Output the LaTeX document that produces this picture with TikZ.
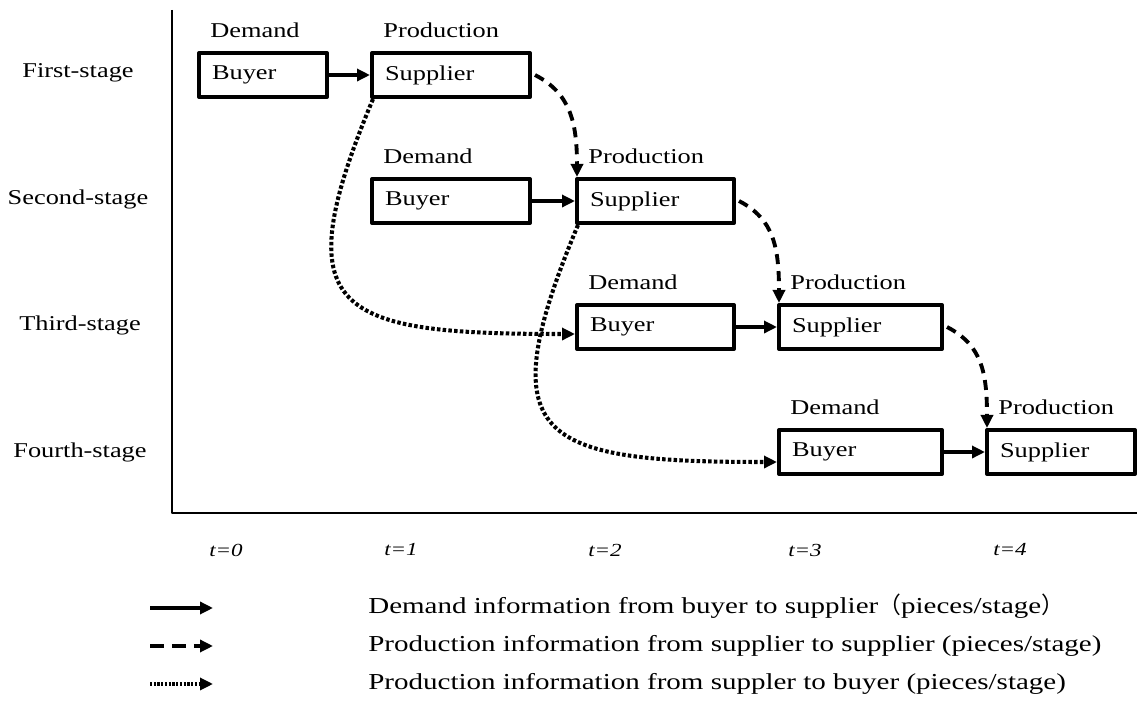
\documentclass[tikz,border=0pt]{standalone}
\usepackage{fontspec}
\setmainfont[FakeStretch=1.25]{Liberation Serif}
\newfontfamily\legfont[FakeStretch=1.27]{Liberation Serif}
\newfontfamily\cjk{Noto Sans CJK JP}
\usetikzlibrary{arrows.meta,calc}
\begin{document}
\begin{tikzpicture}[x=0.02cm, y=-0.02cm, line join=round,
	box/.style={draw, line width=2.3pt, anchor=north west, minimum height=0.88cm, inner xsep=0.26cm, text width=#1, align=left, font=\fontsize{12}{14}\selectfont},
	tag/.style={anchor=base west, inner sep=0pt, font=\fontsize{12}{14}\selectfont},
	stage/.style={font=\fontsize{12}{14}\selectfont},
	tlabel/.style={font=\fontsize{10.5}{12}\selectfont\itshape},
	dem/.style={line width=2.2pt, -{Triangle[length=0.26cm,width=0.24cm]}},
	prod/.style={dem, dash pattern=on 0.2cm off 0.14cm},
	sup/.style={dem, line width=2.3pt, dash pattern=on 0.07cm off 0.045cm},
	legtext/.style={anchor=base west, inner sep=0pt, font=\legfont\fontsize{13}{15}\selectfont}]
	\useasboundingbox (0,0) rectangle (1137,715);
	% axes
	\draw[line width=0.8pt] (172,10) |- (1137,513);
	% stages
	\node[stage] (st1) at (78,73) {First-stage};
	\node[stage] (st2) at (78,199) {Second-stage};
	\node[stage] (st3) at (80,325) {Third-stage};
	\node[stage] (st4) at (80,452) {Fourth-stage};
	% time
	\node[tlabel] (t0) at (226,550) {t=0};
	\node[tlabel] (t1) at (401,550) {t=1};
	\node[tlabel] (t2) at (605,550) {t=2};
	\node[tlabel] (t3) at (805,550) {t=3};
	\node[tlabel] (t4) at (1010,550) {t=4};
	% boxes
	\node[box=2.04cm] (B1) at (197,51) {Buyer};
	\node[box=2.64cm] (S1) at (370,51) {Supplier};
	\node[box=2.64cm] (B2) at (370,177) {Buyer};
	\node[box=2.62cm] (S2) at (575,177) {Supplier};
	\node[box=2.62cm] (B3) at (575,303) {Buyer};
	\node[box=2.74cm] (S3) at (777,303) {Supplier};
	\node[box=2.74cm] (B4) at (777,428) {Buyer};
	\node[box=2.44cm] (S4) at (985,428) {Supplier};
	\node[tag] (dB1) at ($(B1.north west)+(13,-13)$) {Demand};
	\node[tag] (pS1) at ($(S1.north west)+(13,-13)$) {Production};
	\node[tag] (dB2) at ($(B2.north west)+(13,-13)$) {Demand};
	\node[tag] (pS2) at ($(S2.north west)+(13,-13)$) {Production};
	\node[tag] (dB3) at ($(B3.north west)+(13,-13)$) {Demand};
	\node[tag] (pS3) at ($(S3.north west)+(13,-13)$) {Production};
	\node[tag] (dB4) at ($(B4.north west)+(13,-13)$) {Demand};
	\node[tag] (pS4) at ($(S4.north west)+(13,-13)$) {Production};
	% demand information
	\draw[dem] (B1) -- (S1);
	\draw[dem] (B2) -- (S2);
	\draw[dem] (B3) -- (S3);
	\draw[dem] (B4) -- (S4);
	% production information, supplier to supplier
	\draw[prod] ($(S1.east)+(3,0)$) .. controls +(35,18) and +(0,-55) .. ($(S2.north west)+(2,0)$);
	\draw[prod] ($(S2.east)+(3,0)$) .. controls +(35,18) and +(0,-55) .. ($(S3.north west)+(2,0)$);
	\draw[prod] ($(S3.east)+(3,0)$) .. controls +(35,18) and +(0,-55) .. ($(S4.north west)+(2,0)$);
	% production information, supplier to buyer
	\draw[sup] ($(S1.south west)+(3,0)$) .. controls +(-90,215) and +(-240,0) .. ($(B3.west)+(0,7)$);
	\draw[sup] ($(S2.south west)+(3,0)$) .. controls +(-90,215) and +(-240,0) .. ($(B4.west)+(0,10)$);
	% legend
	\coordinate (k1) at (150,608); \coordinate (k1e) at (213,608);
	\coordinate (k2) at (150,646); \coordinate (k2e) at (213,646);
	\coordinate (k3) at (150,684); \coordinate (k3e) at (213,684);
	\draw[dem] (k1) -- (k1e);
	\draw[prod, dash pattern=on 0.28cm off 0.16cm] (k2) -- (k2e);
	\draw[sup, line width=1.8pt, dash pattern=on 0.045cm off 0.03cm] (k3) -- (k3e);
	\node[legtext] (L1) at (368,614) {Demand information from buyer to supplier{\cjk （}pieces/stage{\cjk ）}};
	\node[legtext] (L2) at (368,652) {Production information from supplier to supplier (pieces/stage)};
	\node[legtext] (L3) at (368,690) {Production information from suppler to buyer (pieces/stage)};
\end{tikzpicture}
\end{document}
